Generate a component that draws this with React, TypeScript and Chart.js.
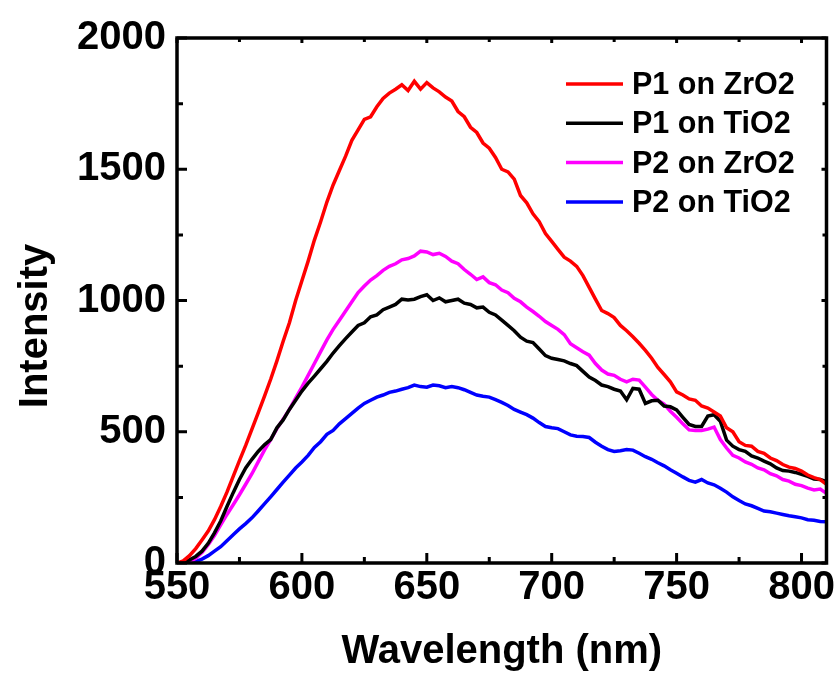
import React, { useEffect, useRef } from "react";
import { Chart, registerables } from "chart.js";

Chart.register(...registerables);

const wavelengths = [
  550, 552.5, 555, 557.5, 560, 562.5, 565, 567.5, 570, 572.5, 575, 577.5, 580, 582.5, 585, 587.5,
  590, 592.5, 595, 597.5, 600, 602.5, 605, 607.5, 610, 612.5, 615, 617.5, 620, 622.5, 625, 627.5,
  630, 632.5, 635, 637.5, 640, 642.5, 645, 647.5, 650, 652.5, 655, 657.5, 660, 662.5, 665, 667.5,
  670, 672.5, 675, 677.5, 680, 682.5, 685, 687.5, 690, 692.5, 695, 697.5, 700, 702.5, 705, 707.5,
  710, 712.5, 715, 717.5, 720, 722.5, 725, 727.5, 730, 732.5, 735, 737.5, 740, 742.5, 745, 747.5,
  750, 752.5, 755, 757.5, 760, 762.5, 765, 767.5, 770, 772.5, 775, 777.5, 780, 782.5, 785, 787.5,
  790, 792.5, 795, 797.5, 800, 802.5, 805, 807.5, 810,
];

const p1ZrO2 = [
  0, 8, 28, 55, 88, 122, 165, 215, 270, 330, 390, 448, 510, 572, 635, 700,
  770, 845, 915, 1000, 1075, 1150, 1230, 1300, 1375, 1440, 1495, 1550, 1610, 1650, 1690, 1700,
  1738, 1770, 1790, 1805, 1822, 1800, 1835, 1805, 1830, 1810, 1795, 1775, 1760, 1720, 1700, 1660,
  1640, 1600, 1580, 1545, 1500, 1490, 1462, 1400, 1372, 1330, 1300, 1255, 1225, 1195, 1165, 1150,
  1130, 1095, 1050, 1005, 962, 950, 935, 905, 885, 862, 837, 810, 780, 745, 718, 690,
  652, 640, 625, 620, 598, 590, 575, 560, 515, 500, 462, 448, 445, 425, 418, 400,
  390, 375, 365, 360, 350, 335, 325, 318, 300,
];

const p1TiO2 = [
  0, 3, 12, 25, 45, 75, 115, 160, 215, 268, 318, 362, 395, 425, 450, 470,
  515, 545, 585, 620, 655, 685, 712, 740, 768, 800, 828, 855, 880, 905, 915, 938,
  945, 965, 975, 985, 1005, 1002, 1005, 1015, 1022, 1000, 1010, 995, 1000, 1005, 990, 985,
  972, 975, 955, 945, 925, 905, 885, 860, 845, 840, 815, 790, 780, 775, 770, 760,
  752, 730, 708, 695, 678, 672, 662, 655, 622, 665, 662, 608, 618, 620, 598, 595,
  583, 555, 528, 520, 520, 560, 565, 540, 468, 445, 432, 425, 408, 400, 388, 378,
  362, 352, 350, 345, 338, 330, 320, 318, 310,
];

const p2ZrO2 = [
  0, 1, 5, 18, 40, 70, 105, 145, 185, 222, 260, 300, 340, 385, 430, 470,
  512, 548, 585, 628, 670, 715, 760, 805, 850, 890, 925, 960, 995, 1030, 1055, 1078,
  1095, 1115, 1130, 1140, 1155, 1160, 1170, 1188, 1185, 1175, 1180, 1168, 1150, 1140, 1118, 1100,
  1080, 1090, 1068, 1060, 1040, 1030, 1008, 995, 975, 958, 940, 920, 905, 890, 870, 835,
  820, 805, 792, 760, 735, 720, 715, 700, 690, 700, 697, 670, 642, 620, 605, 578,
  555, 530, 507, 505, 505, 510, 518, 470, 438, 410, 400, 385, 376, 362, 355, 340,
  332, 318, 312, 300, 295, 285, 278, 282, 265,
];

const p2TiO2 = [
  0, 0, 0, 5, 15, 28, 45, 62, 85, 108, 130, 150, 172, 198, 225, 252,
  280, 308, 335, 362, 385, 410, 440, 462, 490, 505, 530, 550, 570, 590, 608, 620,
  632, 640, 650, 655, 662, 668, 678, 672, 670, 678, 675, 668, 672, 668, 660, 650,
  640, 635, 632, 622, 612, 600, 585, 575, 565, 552, 535, 520, 515, 512, 500, 488,
  483, 482, 478, 460, 445, 432, 425, 428, 432, 430, 418, 405, 395, 382, 370, 355,
  342, 328, 315, 308, 318, 305, 298, 285, 270, 252, 238, 225, 218, 208, 198, 195,
  190, 185, 180, 176, 172, 165, 163, 158, 157,
];

const seriesNames = ["P1 on ZrO2", "P1 on TiO2", "P2 on ZrO2", "P2 on TiO2"];
const seriesColors = ["#ff0000", "#000000", "#ff00ff", "#0000ff"];
const seriesValues = [p1ZrO2, p1TiO2, p2ZrO2, p2TiO2];

const xTicksMajor = [550, 600, 650, 700, 750, 800];
const xTicksMinor = [575, 625, 675, 725, 775];
const yTicksMajor = [0, 500, 1000, 1500, 2000];
const yTicksMinor = [250, 750, 1250, 1750];

const xTitle = "Wavelength (nm)";
const yTitle = "Intensity";

const FONT = "'Liberation Sans', Arial, Helvetica, sans-serif";

const framePlugin = {
  id: "frameTicks",
  afterDatasetsDraw(chart: any) {
    const { ctx, chartArea, scales } = chart;
    const { left, right, top, bottom } = chartArea;
    const xs = scales.x;
    const ys = scales.y;
    ctx.save();
    ctx.strokeStyle = "#000";
    ctx.lineWidth = 3.5;
    ctx.lineCap = "butt";
    ctx.beginPath();
    ctx.rect(left, top, right - left, bottom - top);
    ctx.stroke();
    ctx.lineWidth = 3;
    const drawX = (v: number, lenB: number, lenT: number) => {
      const px = xs.getPixelForValue(v);
      ctx.beginPath();
      ctx.moveTo(px, bottom);
      ctx.lineTo(px, bottom - lenB);
      ctx.moveTo(px, top);
      ctx.lineTo(px, top + lenT);
      ctx.stroke();
    };
    const drawY = (v: number, lenL: number, lenR: number) => {
      const py = ys.getPixelForValue(v);
      ctx.beginPath();
      ctx.moveTo(left, py);
      ctx.lineTo(left + lenL, py);
      ctx.moveTo(right, py);
      ctx.lineTo(right - lenR, py);
      ctx.stroke();
    };
    xTicksMajor.forEach((v) => drawX(v, 10, 5));
    xTicksMinor.forEach((v) => drawX(v, 6, 4));
    yTicksMajor.forEach((v) => drawY(v, 10, 5));
    yTicksMinor.forEach((v) => drawY(v, 6, 4));

    // y-axis title
    ctx.fillStyle = "#000";
    ctx.font = `bold 40px ${FONT}`;
    ctx.textAlign = "center";
    ctx.textBaseline = "alphabetic";
    ctx.translate(47, 326);
    ctx.rotate(-Math.PI / 2);
    ctx.fillText(yTitle, 0, 0);
    ctx.restore();

    // legend
    ctx.save();
    ctx.font = `bold 30.5px ${FONT}`;
    ctx.textAlign = "left";
    ctx.textBaseline = "alphabetic";
    seriesNames.forEach((name, i) => {
      const y = 84 + i * 39.3;
      ctx.strokeStyle = seriesColors[i];
      ctx.lineWidth = 3.5;
      ctx.beginPath();
      ctx.moveTo(566, y);
      ctx.lineTo(623, y);
      ctx.stroke();
      ctx.fillStyle = "#000";
      ctx.fillText(name, 632, y + 10);
    });
    ctx.restore();
  },
};

export default function App() {
  const canvasRef = useRef<HTMLCanvasElement | null>(null);

  useEffect(() => {
    const canvas = canvasRef.current;
    if (!canvas) return;
    const datasets = seriesNames.map((name, i) => ({
      label: name,
      data: wavelengths.map((w, j) => ({ x: w, y: seriesValues[i][j] })),
      borderColor: seriesColors[i],
      backgroundColor: seriesColors[i],
      borderWidth: 3.5,
      pointRadius: 0,
      tension: 0,
      fill: false,
    }));
    const chart = new Chart(canvas, {
      type: "line",
      data: { datasets },
      plugins: [framePlugin],
      options: {
        responsive: false,
        animation: false,
        events: [],
        layout: { padding: { top: 38, right: 13.5, left: 0, bottom: 0 } },
        plugins: {
          legend: { display: false },
          tooltip: { enabled: false },
        },
        scales: {
          x: {
            type: "linear",
            min: 550,
            max: 810,
            afterFit: (s: any) => {
              s.height = 118;
            },
            grid: { display: false, drawTicks: false },
            border: { display: false },
            ticks: {
              stepSize: 50,
              includeBounds: false,
              padding: 1,
              color: "#000",
              maxRotation: 0,
              callback: (v: any) => String(v),
              font: { family: FONT, size: 40, weight: "bold" },
            },
            title: {
              display: true,
              text: xTitle,
              color: "#000",
              padding: { top: 0, bottom: 5 },
              font: { family: FONT, size: 40, weight: "bold" },
            },
          },
          y: {
            type: "linear",
            min: 0,
            max: 2000,
            afterFit: (s: any) => {
              s.width = 177;
            },
            grid: { display: false, drawTicks: false },
            border: { display: false },
            ticks: {
              stepSize: 500,
              padding: 11,
              color: "#000",
              callback: (v: any) => String(v),
              font: { family: FONT, size: 40, weight: "bold" },
            },
          },
        },
      },
    });
    return () => chart.destroy();
  }, []);

  return (
    <div style={{ position: "absolute", left: 0, top: 0, width: 840, height: 681, background: "#fff" }}>
      <canvas ref={canvasRef} width={840} height={681} style={{ display: "block" }} />
    </div>
  );
}
